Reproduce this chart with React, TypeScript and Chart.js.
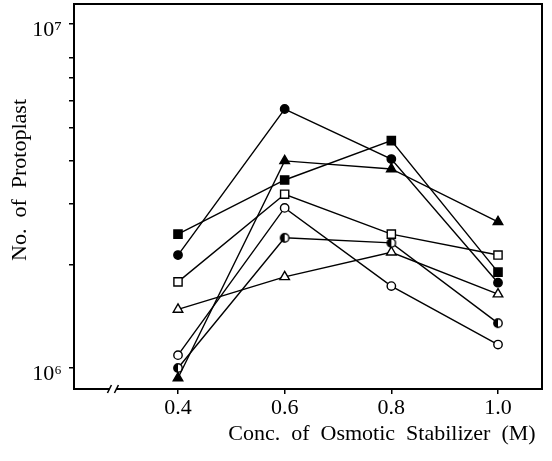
import React, { useEffect, useRef } from "react";
import { Chart, registerables } from "chart.js";

Chart.register(...registerables);

// ---- data ----
const concentrations = [0.4, 0.6, 0.8, 1.0];
const xTickLabels = ["0.4", "0.6", "0.8", "1.0"];

const filledCircle = [2.13e6, 5.66e6, 4.05e6, 1.77e6];
const filledSquare = [2.45e6, 3.52e6, 4.58e6, 1.9e6];
const filledTriangle = [0.935e6, 4.0e6, 3.79e6, 2.66e6];
const openSquare = [1.78e6, 3.2e6, 2.45e6, 2.13e6];
const openCircle = [1.09e6, 2.92e6, 1.73e6, 1.17e6];
const halfCircle = [1.0e6, 2.39e6, 2.31e6, 1.35e6];
const openTriangle = [1.48e6, 1.84e6, 2.17e6, 1.64e6];

const yTickValues = [1e6, 2e6, 3e6, 4e6, 5e6, 6e6, 7e6, 8e6, 1e7];
const yLabeledValues = [1e6, 1e7];
const yLabels = ["10\u2076", "10\u2077"];

const xAxisTitle = "Conc.  of  Osmotic  Stabilizer  (M)";
const yAxisTitle = "No.  of  Protoplast";

const X_MIN = 0.205;
const X_MAX = 1.0825;
const Y_MIN = 8.69e5;
const Y_MAX = 1.143e7;
const AXIS_BREAK_AT = 0.278;

const FONT = "'Liberation Serif', 'Times New Roman', serif";

function makeHalfCircle(): HTMLCanvasElement {
  const c = document.createElement("canvas");
  c.width = 12;
  c.height = 12;
  const g = c.getContext("2d")!;
  const cx = 6, cy = 6, r = 4.2;
  g.beginPath();
  g.arc(cx, cy, r, 0, Math.PI * 2);
  g.fillStyle = "#fff";
  g.fill();
  g.beginPath();
  g.moveTo(cx, cy - r);
  g.arc(cx, cy, r, -Math.PI / 2, Math.PI / 2, true);
  g.closePath();
  g.fillStyle = "#000";
  g.fill();
  g.beginPath();
  g.arc(cx, cy, r, 0, Math.PI * 2);
  g.lineWidth = 1.4;
  g.strokeStyle = "#000";
  g.stroke();
  return c;
}

const framePlugin = {
  id: "frameAndTitles",
  afterDraw(chart: any) {
    const { ctx, chartArea } = chart;
    const { left, right, top, bottom } = chartArea;
    ctx.save();
    ctx.strokeStyle = "#000";
    ctx.lineWidth = 2;
    ctx.strokeRect(left, top, right - left, bottom - top);

    // axis break on x axis
    const bx = chart.scales.x.getPixelForValue(AXIS_BREAK_AT);
    ctx.fillStyle = "#fff";
    ctx.fillRect(bx - 3, bottom - 2, 6, 4);
    ctx.lineWidth = 1.5;
    [-3.5, 3.5].forEach((dx) => {
      ctx.beginPath();
      ctx.moveTo(bx + dx - 2, bottom + 4);
      ctx.lineTo(bx + dx + 2, bottom - 4);
      ctx.stroke();
    });

    ctx.fillStyle = "#000";
    ctx.font = `22px ${FONT}`;
    ctx.textAlign = "center";
    ctx.textBaseline = "middle";

    // x axis title (right-shifted as in the original)
    ctx.fillText(xAxisTitle, left + (right - left) * 0.658, bottom + 45);

    // y axis title
    ctx.translate(20, top + (bottom - top) * 0.457);
    ctx.rotate(-Math.PI / 2);
    ctx.fillText(yAxisTitle, 0, 0);
    ctx.restore();
  },
};

export default function App() {
  const ref = useRef<HTMLCanvasElement | null>(null);

  useEffect(() => {
    if (!ref.current) return;
    const half = makeHalfCircle();
    const mk = (data: number[], style: any, fill: string, radius: number) => ({
      data: concentrations.map((x, i) => ({ x, y: data[i] })),
      showLine: true,
      borderColor: "#000",
      borderWidth: 1.4,
      pointStyle: style,
      pointRadius: radius,
      pointBackgroundColor: fill,
      pointBorderColor: "#000",
      pointBorderWidth: 1.4,
      tension: 0,
      fill: false,
    });

    const chart = new Chart(ref.current, {
      type: "line",
      data: {
        datasets: [
          mk(filledCircle, "circle", "#000", 4.2),
          mk(filledSquare, "rect", "#000", 5.8),
          mk(filledTriangle, "triangle", "#000", 5.5),
          mk(openSquare, "rect", "#fff", 5.8),
          mk(openCircle, "circle", "#fff", 4.2),
          mk(halfCircle, half, "#fff", 4.2),
          mk(openTriangle, "triangle", "#fff", 5.5),
        ] as any,
      },
      options: {
        animation: false,
        responsive: false,
        devicePixelRatio: 1,
        layout: { padding: { left: 0, top: 4, right: 10, bottom: 0 }, autoPadding: false } as any,
        plugins: { legend: { display: false }, tooltip: { enabled: false } },
        scales: {
          x: {
            type: "linear",
            min: X_MIN,
            max: X_MAX,
            afterBuildTicks: (scale: any) => {
              scale.ticks = concentrations.map((v) => ({ value: v }));
            },
            afterFit: (scale: any) => {
              scale.height = 72;
              scale.paddingLeft = 0;
              scale.paddingRight = 0;
            },
            ticks: {
              color: "#000",
              font: { family: FONT, size: 22 },
              padding: 1,
              maxRotation: 0,
              autoSkip: false,
              callback: (_v: any, i: number) => xTickLabels[i],
            },
            grid: { drawOnChartArea: false, drawTicks: true, tickLength: 5, color: "#000", lineWidth: 1.5 },
            border: { display: false },
            title: { display: false },
          },
          y: {
            type: "logarithmic",
            min: Y_MIN,
            max: Y_MAX,
            afterBuildTicks: (scale: any) => {
              scale.ticks = yTickValues.map((v) => ({ value: v }));
            },
            afterFit: (scale: any) => {
              scale.width = 74;
              scale.paddingTop = 0;
              scale.paddingBottom = 0;
            },
            ticks: {
              color: "#000",
              font: { family: FONT, size: 22 },
              padding: 7,
              labelOffset: 6,
              autoSkip: false,
              callback: (v: any) => {
                const idx = yLabeledValues.findIndex((t) => Math.abs(t - Number(v)) < 1);
                return idx >= 0 ? yLabels[idx] : "";
              },
            },
            grid: { drawOnChartArea: false, drawTicks: true, tickLength: 5, color: "#000", lineWidth: 1.5 },
            border: { display: false },
          },
        },
      } as any,
      plugins: [framePlugin],
    });
    return () => chart.destroy();
  }, []);

  return (
    <div style={{ position: "fixed", left: 0, top: 0, width: 552, height: 461, background: "#fff" }}>
      <canvas ref={ref} width={552} height={461} style={{ display: "block" }} />
    </div>
  );
}
